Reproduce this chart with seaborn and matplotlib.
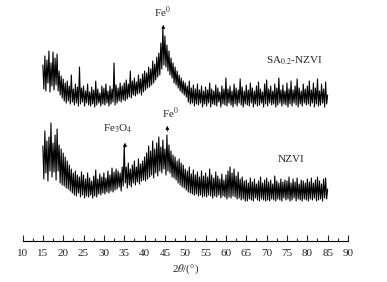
import numpy as np
import pandas as pd
import matplotlib.pyplot as plt
import seaborn as sns

# 2theta grid of the scans (degrees), 0.25 deg step
two_theta = np.arange(15.0, 85.01, 0.25)

# intensities (arbitrary units, stacked offsets included)
sa_counts = [
    176, 152, 185, 150, 181, 158, 190, 149, 178, 155, 189, 151, 183, 156, 187, 150, 170, 146, 165, 143,
    162, 140, 158, 138, 160, 140, 155, 137, 166, 139, 152, 136, 157, 138, 154, 135, 174, 137, 153, 139,
    155, 135, 150, 138, 157, 136, 149, 135, 154, 137, 151, 134, 160, 136, 152, 138, 148, 135, 155, 137,
    153, 136, 157, 138, 150, 135, 155, 137, 152, 139, 178, 136, 156, 138, 153, 140, 158, 139, 155, 141,
    158, 140, 161, 142, 157, 144, 170, 143, 160, 146, 163, 145, 159, 147, 166, 148, 162, 146, 167, 149,
    170, 151, 168, 153, 174, 154, 172, 156, 180, 158, 177, 161, 184, 164, 188, 166, 198, 172, 214, 176,
    205, 174, 196, 170, 190, 166, 183, 163, 178, 158, 174, 156, 170, 153, 166, 150, 163, 148, 160, 146,
    158, 144, 155, 139, 160, 137, 153, 138, 156, 135, 152, 137, 157, 136, 151, 138, 155, 134, 150, 137,
    154, 135, 151, 138, 158, 134, 152, 137, 150, 136, 156, 135, 153, 139, 149, 134, 155, 137, 152, 136,
    163, 135, 152, 138, 155, 136, 150, 134, 157, 137, 153, 135, 151, 138, 162, 136, 154, 134, 150, 137,
    156, 136, 151, 135, 158, 138, 153, 134, 150, 137, 155, 135, 159, 136, 152, 138, 149, 134, 157, 137,
    161, 135, 152, 138, 155, 136, 150, 137, 157, 134, 153, 136, 163, 138, 151, 135, 156, 137, 150, 136,
    158, 134, 152, 137, 160, 135, 151, 138, 155, 136, 162, 134, 153, 137, 150, 135, 157, 138, 152, 136,
    155, 137, 160, 135, 151, 138, 158, 134, 153, 137, 162, 135, 150, 136, 157, 138, 152, 134, 159, 137,
    146,
]
nzvi_counts = [
    95, 62, 110, 68, 100, 60, 104, 70, 118, 64, 98, 69, 106, 61, 112, 70, 96, 58, 92, 56,
    88, 55, 84, 53, 80, 52, 76, 50, 72, 48, 68, 46, 70, 45, 66, 48, 64, 44, 69, 46,
    66, 43, 62, 45, 68, 44, 63, 46, 60, 43, 65, 45, 71, 44, 62, 47, 67, 46, 64, 48,
    68, 47, 63, 49, 70, 48, 66, 50, 73, 49, 69, 51, 72, 52, 70, 54, 68, 50, 74, 55,
    96, 58, 74, 53, 78, 56, 72, 54, 76, 58, 80, 56, 74, 59, 82, 57, 77, 60, 80, 61,
    84, 60, 88, 62, 95, 64, 90, 66, 100, 63, 92, 68, 98, 65, 104, 70, 94, 68, 101, 72,
    92, 66, 106, 70, 96, 68, 90, 64, 86, 63, 84, 61, 80, 58, 82, 56, 78, 54, 76, 53,
    72, 51, 70, 49, 74, 48, 67, 47, 71, 46, 66, 47, 69, 45, 64, 46, 70, 44, 65, 45,
    68, 44, 64, 46, 72, 45, 66, 43, 63, 45, 69, 44, 65, 46, 62, 43, 67, 45, 61, 44,
    66, 42, 70, 44, 74, 43, 68, 45, 72, 44, 65, 42, 69, 43, 62, 41, 64, 42, 60, 40,
    61, 40, 58, 42, 63, 41, 59, 40, 62, 43, 57, 41, 60, 40, 64, 42, 58, 41, 61, 40,
    63, 41, 59, 40, 61, 42, 57, 41, 65, 40, 60, 42, 58, 41, 62, 40, 59, 43, 61, 41,
    60, 42, 64, 40, 58, 41, 62, 43, 59, 40, 63, 42, 57, 41, 61, 40, 60, 42, 58, 41,
    62, 40, 59, 42, 63, 41, 58, 43, 61, 40, 64, 41, 60, 42, 57, 40, 62, 43, 63, 42,
    52,
]

df = pd.DataFrame({
    'two_theta': np.concatenate([two_theta, two_theta]),
    'counts': sa_counts + nzvi_counts,
    'sample': ['SA'] * len(sa_counts) + ['NZVI'] * len(nzvi_counts),
})

sns.set_style('white')
plt.rcParams['font.family'] = ['Liberation Serif', 'DejaVu Serif']
plt.rcParams['mathtext.fontset'] = 'stix'
plt.rcParams['font.size'] = 8

fig = plt.figure(figsize=(3.87, 2.82), dpi=100)
ax = fig.add_axes([22.5 / 387, 41 / 282, 325.5 / 387, 241 / 282])

sns.lineplot(data=df, x='two_theta', y='counts', units='sample', estimator=None,
             color='black', linewidth=0.8, ax=ax, legend=False)

ax.set_xlim(10, 90)
ax.set_ylim(0, 241)
ax.set_xticks(np.arange(10, 91, 5))
ax.set_xticks(np.arange(10, 91, 2.5), minor=True)
ax.tick_params(axis='x', which='major', direction='in', length=4, width=0.8, pad=6, bottom=True)
ax.tick_params(axis='x', which='minor', direction='in', length=2, width=0.8, bottom=True)
ax.set_yticks([])
for s in ['left', 'right', 'top']:
    ax.spines[s].set_visible(False)
ax.spines['bottom'].set_linewidth(0.8)
ax.spines['bottom'].set_color('black')
ax.set_xlabel(r'2$\it{\theta}$/(°)', labelpad=3)
ax.set_ylabel('')

arrow = dict(arrowstyle='-|>', color='black', lw=0.6, mutation_scale=5)
ax.annotate('', xy=(44.6, 219), xytext=(44.6, 210), arrowprops=arrow)
ax.text(44.5, 221, r'Fe$^{0}$', ha='center', va='bottom')
ax.annotate('', xy=(35.2, 101), xytext=(35.2, 91), arrowprops=arrow)
ax.text(33.4, 106, r'Fe$_{3}$O$_{4}$', ha='center', va='bottom')
ax.annotate('', xy=(45.6, 118), xytext=(45.6, 107), arrowprops=arrow)
ax.text(46.3, 120, r'Fe$^{0}$', ha='center', va='bottom')
ax.text(76.9, 180, r'SA$_{0.2}$-NZVI', ha='center', va='center')
ax.text(75.9, 81, 'NZVI', ha='center', va='center')

fig.savefig('out.png', dpi=100)
